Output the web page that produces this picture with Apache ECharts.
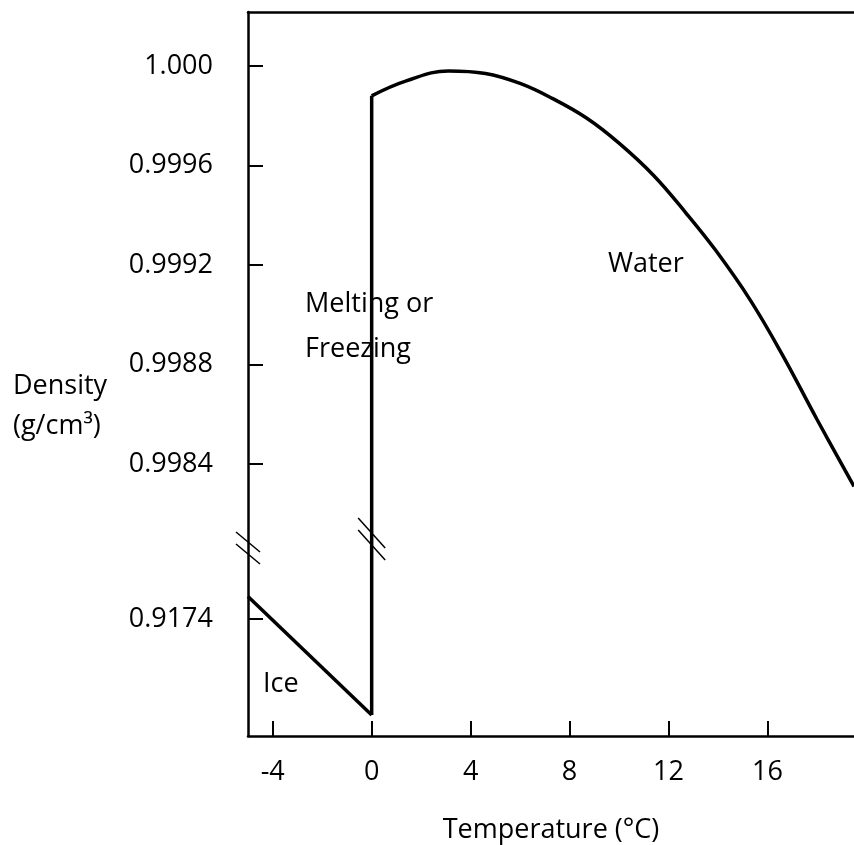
<!DOCTYPE html>
<html>
<head>
<meta charset="utf-8">
<script src="https://cdn.jsdelivr.net/npm/echarts@6/dist/echarts.min.js"></script>
<style>
  html, body { margin: 0; padding: 0; background: #fff; }
  #chart { width: 854px; height: 845px; }
</style>
</head>
<body>
<div id="chart"></div>
<script>
// x axis
const tempTicks = [-4, 0, 4, 8, 12, 16]

// y axis (broken): labels and the densities they stand for
const densityLabels = ['0.9174', '0.9984', '0.9988', '0.9992', '0.9996', '1.000']
const densityTicks = [0.9174, 0.9984, 0.9988, 0.9992, 0.9996, 1.0]

// ice
const iceTemp = [-5, 0]
const iceDensity = [0.91754, 0.9168]

// melting / freezing jump at 0 C
const meltTemp = [0, 0]
const meltDensity = [0.9168, 0.99988]

// water
const waterTemp = [0, 1.4, 3.1, 4.6, 6.0, 7.3, 8.7, 10.0, 11.4, 12.7, 13.9, 15.3, 16.6, 18.0, 19.5]
const waterDensity = [0.99988, 0.99994, 0.99998, 0.99997, 0.99993, 0.99987, 0.99979, 0.99969,
  0.99956, 0.99941, 0.99926, 0.99906, 0.99884, 0.99858, 0.99831]

// where the axis breaks are marked [temperature, axis position]
const breakMarks = [[-5, 188], [0, 197]]

// the y axis is cut: water part and ice part use their own scale
const toAxis = rho => rho > 0.95
  ? 670 + (rho - 1.0) / 0.0004 * 99.5
  : 117 + (rho - 0.9174) * 160000

const tickPos = densityTicks.map(toAxis)
const pairs = (xs, ys) => xs.map((x, i) => [x, toAxis(ys[i])])

const FONT = '"Open Sans", "Noto Sans", sans-serif'
const black = '#000'

const chart = echarts.init(document.getElementById('chart'))

chart.setOption({
  animation: false,
  backgroundColor: '#fff',
  textStyle: { fontFamily: FONT, color: black },
  grid: { left: 248, top: 12, right: 0, bottom: 109, containLabel: false, outerBoundsMode: 'none' },
  xAxis: [{
    type: 'value',
    min: -5,
    max: 19.5,
    splitLine: { show: false },
    axisLine: { onZero: false, lineStyle: { color: black, width: 2.5 } },
    axisTick: { inside: true, length: 15, customValues: tempTicks, lineStyle: { color: black, width: 2 } },
    axisLabel: { customValues: tempTicks, fontSize: 27, color: black, fontFamily: FONT, margin: 23 },
    name: 'Temperature (°C)',
    nameLocation: 'middle',
    nameGap: 81,
    nameTextStyle: { fontSize: 27, color: black, fontFamily: FONT }
  }, {
    type: 'value',
    position: 'top',
    min: -5,
    max: 19.5,
    splitLine: { show: false },
    axisLine: { onZero: false, lineStyle: { color: black, width: 2.5 } },
    axisTick: { show: false },
    axisLabel: { show: false }
  }],
  yAxis: {
    type: 'value',
    min: 0,
    max: 724,
    splitLine: { show: false },
    axisLine: { onZero: false, lineStyle: { color: black, width: 2.5 } },
    axisTick: { inside: true, length: 15, customValues: tickPos, lineStyle: { color: black, width: 2 } },
    axisLabel: {
      customValues: tickPos,
      fontSize: 27,
      color: black,
      fontFamily: FONT,
      margin: 35,
      formatter: v => {
        const i = tickPos.findIndex(p => Math.abs(p - v) < 0.5)
        return i >= 0 ? densityLabels[i] : ''
      }
    }
  },
  graphic: [
    { type: 'text', left: 13, top: 373, style: { text: 'Density', font: '27px ' + FONT, fill: black } },
    { type: 'text', left: 13, top: 413, style: { text: '(g/cm³)', font: '27px ' + FONT, fill: black } },
    { type: 'text', left: 305, top: 291, style: { text: 'Melting or', font: '27px ' + FONT, fill: black } },
    { type: 'text', left: 305, top: 336, style: { text: 'Freezing', font: '27px ' + FONT, fill: black } },
    { type: 'text', left: 608, top: 251, style: { text: 'Water', font: '27px ' + FONT, fill: black } },
    { type: 'text', left: 263, top: 671, style: { text: 'Ice', font: '27px ' + FONT, fill: black } }
  ],
  series: [
    {
      name: 'Ice',
      type: 'line',
      data: pairs(iceTemp, iceDensity),
      showSymbol: false,
      lineStyle: { color: black, width: 3.5 }
    },
    {
      name: 'Melting',
      type: 'line',
      data: pairs(meltTemp, meltDensity),
      showSymbol: false,
      lineStyle: { color: black, width: 3.5 }
    },
    {
      name: 'Water',
      type: 'line',
      data: pairs(waterTemp, waterDensity),
      smooth: 0.4,
      showSymbol: false,
      lineStyle: { color: black, width: 3.5 }
    },
    {
      name: 'breaks',
      type: 'custom',
      data: breakMarks,
      renderItem: (params, api) => {
        const p = api.coord([api.value(0), api.value(1)])
        const first = params.dataIndex === 0
        const dx = first ? 12 : 13.5
        const dy = first ? 10 : 15
        const gap = 6
        const style = { stroke: black, lineWidth: 1.5 }
        return {
          type: 'group',
          children: [
            { type: 'line', shape: { x1: p[0] - dx, y1: p[1] - gap - dy, x2: p[0] + dx, y2: p[1] - gap + dy }, style },
            { type: 'line', shape: { x1: p[0] - dx, y1: p[1] + gap - dy, x2: p[0] + dx, y2: p[1] + gap + dy }, style }
          ]
        }
      }
    }
  ]
})
</script>
</body>
</html>
